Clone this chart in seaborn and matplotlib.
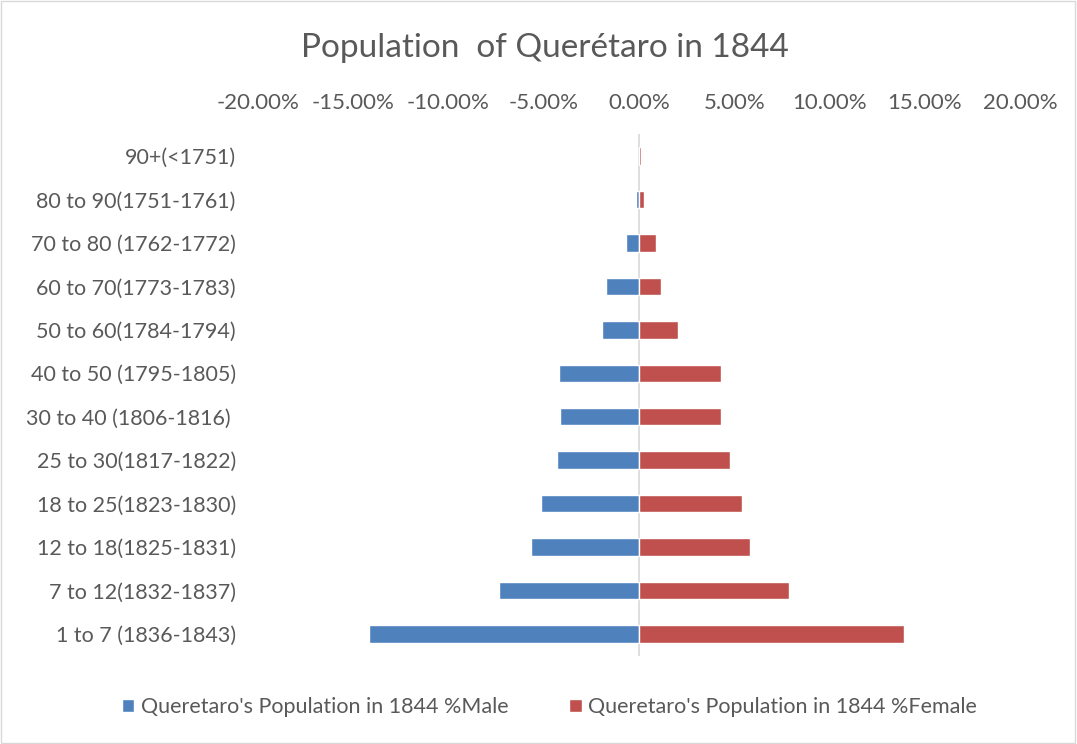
import matplotlib
matplotlib.use("Agg")
import matplotlib.pyplot as plt
import seaborn as sns
import pandas as pd
from matplotlib.ticker import FuncFormatter
from matplotlib.patches import Patch, Rectangle

# --- data (percent of population) ---
age_groups = [
    "90+(<1751)", "80 to 90(1751-1761)", "70 to 80 (1762-1772)",
    "60 to 70(1773-1783)", "50 to 60(1784-1794)", "40 to 50 (1795-1805)",
    "30 to 40 (1806-1816) ", "25 to 30(1817-1822)", "18 to 25(1823-1830)",
    "12 to 18(1825-1831)", "7 to 12(1832-1837)", "1 to 7 (1836-1843)",
]
male_pct = [0.0, -0.18, -0.70, -1.71, -1.93, -4.20, -4.13, -4.31, -5.13, -5.67, -7.36, -14.15]
female_pct = [0.12, 0.24, 0.91, 1.17, 2.05, 4.29, 4.29, 4.75, 5.43, 5.84, 7.85, 13.92]
series_names = ["Queretaro's Population in 1844 %Male", "Queretaro's Population in 1844 %Female"]
x_ticks = [-20, -15, -10, -5, 0, 5, 10, 15, 20]

BLUE = "#4F81BD"
RED = "#C0504D"
TXT = "#595959"

sns.set_theme(style="white")
plt.rcParams["font.family"] = ["Lato", "DejaVu Sans"]

df = pd.DataFrame({
    "age": age_groups * 2,
    "pct": male_pct + female_pct,
    "series": [series_names[0]] * len(age_groups) + [series_names[1]] * len(age_groups),
})

fig = plt.figure(figsize=(10.77, 7.44), dpi=100)
ax = fig.add_axes([0.2396, 0.1187, 0.7075, 0.7008])

sns.barplot(data=df, x="pct", y="age", hue="series", order=age_groups,
            hue_order=series_names, palette=[BLUE, RED], dodge=False,
            saturation=1, width=0.4, orient="h", ax=ax, legend=False)

ax.axvline(0, color="#d9d9d9", lw=1.2, zorder=0.5)
ax.set_xlim(-20, 20)
ax.set_ylim(len(age_groups) - 0.5, -0.5)
ax.set_xticks(x_ticks)
ax.xaxis.set_major_formatter(FuncFormatter(lambda v, p: f"{v:.2f}%"))
ax.xaxis.tick_top()
ax.tick_params(axis="x", length=0, pad=15, labelsize=16, labelcolor=TXT)
ax.tick_params(axis="y", length=0, pad=16, labelsize=15.5, labelcolor=TXT)
ax.set_xlabel("")
ax.set_ylabel("")
for s in ax.spines.values():
    s.set_visible(False)

fig.text(0.506, 1 - 48 / 744, "Population  of Querétaro in 1844",
         ha="center", va="center", fontsize=24, color=TXT)

handles = [Patch(facecolor=BLUE), Patch(facecolor=RED)]
fig.legend(handles, series_names, loc="center", bbox_to_anchor=(0.51, 1 - 707 / 744),
           ncol=2, frameon=False, fontsize=15.5, labelcolor=TXT,
           handlelength=0.6, handleheight=0.6, handletextpad=0.3, columnspacing=2.8)

fig.patches.append(Rectangle((0.001, 0.002), 0.997, 0.996, transform=fig.transFigure,
                             fill=False, edgecolor="#d9d9d9", lw=1))

fig.savefig("out.png", dpi=100)
plt.close(fig)
